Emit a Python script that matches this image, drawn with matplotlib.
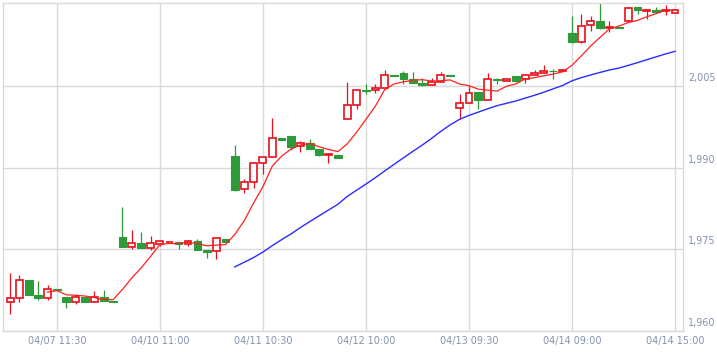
import numpy as np
import matplotlib
matplotlib.use("Agg")
import matplotlib.pyplot as plt
import matplotlib.transforms as mtransforms

# candle data, one entry per bar
opens = [1965.4, 1966.0, 1969.3, 1966.7, 1966.0, 1967.7, 1966.2, 1965.4, 1966.2, 1965.4,
         1966.2, 1965.5, 1977.2, 1975.5, 1976.1, 1975.2, 1975.9, 1976.3, 1976.3, 1975.9,
         1976.6, 1974.9, 1974.7, 1976.9, 1992.1, 1986.0, 1987.4, 1990.8, 1992.0, 1995.4,
         1995.8, 1993.9, 1994.55, 1993.5, 1992.4, 1992.4, 1999.0, 2001.6, 2004.25, 2004.2,
         2004.7, 2007.0, 2007.3, 2006.2, 2005.6, 2005.25, 2005.75, 2007.1, 2000.9, 2001.8,
         2003.9, 2002.5, 2006.2, 2006.0, 2006.8, 2006.2, 2007.1, 2007.3, 2007.85, 2007.75,
         2014.8, 2013.1, 2016.3, 2016.9, 2015.65, 2015.75, 2016.95, 2019.5, 2018.8, 2019.0,
         2018.8, 2018.5]
highs = [1970.6, 1970.3, 1969.3, 1969.2, 1968.4, 1967.7, 1966.2, 1966.8, 1966.2, 1967.3,
         1967.5, 1965.5, 1982.7, 1978.5, 1978.1, 1977.4, 1976.5, 1976.4, 1976.3, 1976.8,
         1976.9, 1974.9, 1977.0, 1976.9, 1994.1, 1987.9, 1991.0, 1992.0, 1999.2, 1995.4,
         1995.8, 1994.9, 1995.2, 1993.5, 1992.6, 1992.4, 2005.7, 2004.2, 2005.3, 2005.45,
         2007.9, 2007.0, 2007.8, 2007.5, 2006.4, 2006.55, 2007.5, 2007.1, 2003.6, 2005.0,
         2003.9, 2007.3, 2006.5, 2006.2, 2006.8, 2007.1, 2007.9, 2008.8, 2008.2, 2008.0,
         2017.8, 2018.3, 2017.8, 2020.2, 2016.9, 2015.75, 2019.6, 2019.5, 2019.0, 2019.6,
         2019.8, 2018.9]
lows = [1963.2, 1965.4, 1966.7, 1965.7, 1965.7, 1967.5, 1964.2, 1965.0, 1965.4, 1965.4,
        1965.6, 1965.4, 1975.5, 1975.0, 1975.3, 1974.9, 1975.6, 1976.3, 1975.0, 1975.6,
        1974.8, 1973.5, 1973.3, 1976.4, 1985.7, 1985.3, 1986.2, 1988.9, 1992.0, 1995.1,
        1993.2, 1992.9, 1993.5, 1992.2, 1990.8, 1991.8, 1999.0, 2000.7, 2003.6, 2003.8,
        2004.5, 2006.8, 2005.3, 2005.6, 2005.0, 2005.25, 2005.75, 2006.9, 1999.0, 2001.8,
        2000.7, 2002.5, 2005.45, 2006.0, 2005.8, 2005.6, 2007.0, 2007.3, 2006.35, 2007.75,
        2012.9, 2012.9, 2015.1, 2015.5, 2014.9, 2015.6, 2016.95, 2018.3, 2017.35, 2018.4,
        2018.0, 2018.5]
closes = [1966.0, 1969.3, 1966.7, 1966.0, 1967.65, 1967.5, 1965.4, 1966.2, 1965.4, 1966.2,
          1965.6, 1965.4, 1975.5, 1976.1, 1975.3, 1976.1, 1976.5, 1976.4, 1975.9, 1976.6,
          1974.8, 1974.55, 1977.0, 1976.4, 1985.9, 1987.4, 1990.8, 1992.0, 1995.4, 1995.1,
          1993.8, 1994.55, 1993.5, 1992.3, 1992.6, 1991.8, 2001.6, 2004.2, 2004.15, 2004.7,
          2007.0, 2006.8, 2006.2, 2005.6, 2005.25, 2005.75, 2007.1, 2006.9, 2001.8, 2003.8,
          2002.5, 2006.2, 2006.05, 2006.2, 2005.95, 2007.1, 2007.4, 2007.8, 2007.75, 2008.0,
          2013.1, 2016.1, 2016.9, 2015.65, 2015.75, 2015.6, 2019.4, 2018.9, 2019.0, 2018.6,
          2019.0, 2018.9]

# short average line (red), starts at bar 4
ma_short = [1967.13, 1967.43, 1966.65, 1966.55, 1966.43, 1966.14, 1965.76, 1965.76, 1967.62, 1969.76,
            1971.58, 1973.68, 1975.90, 1976.08, 1976.04, 1976.30, 1976.04, 1975.65, 1975.77, 1975.87,
            1977.73, 1980.25, 1983.50, 1986.50, 1990.30, 1992.14, 1993.42, 1994.17, 1994.47, 1993.85,
            1993.35, 1992.95, 1994.36, 1996.50, 1998.87, 2001.29, 2004.33, 2005.37, 2005.77, 2006.06,
            2006.17, 2005.92, 2005.98, 2006.12, 2005.36, 2005.07, 2004.42, 2004.24, 2004.07, 2004.95,
            2005.38, 2006.30, 2006.54, 2006.89, 2007.20, 2007.61, 2008.81, 2010.55, 2012.37, 2013.95,
            2015.50, 2016.00, 2016.66, 2017.06, 2017.73, 2018.30, 2018.98, 2018.88]
# long average line (blue), starts at bar 24
ma_long = [1971.78, 1972.63, 1973.49, 1974.50, 1975.68, 1976.78, 1977.83, 1979.00, 1980.09, 1981.16,
           1982.22, 1983.27, 1984.72, 1985.86, 1986.99, 1988.16, 1989.40, 1990.61, 1991.80, 1992.99,
           1994.14, 1995.37, 1996.68, 1997.87, 1998.89, 1999.60, 2000.21, 2000.82, 2001.39, 2001.82,
           2002.25, 2002.78, 2003.30, 2003.87, 2004.49, 2005.10, 2005.96, 2006.54, 2007.04, 2007.50,
           2007.95, 2008.29, 2008.79, 2009.30, 2009.84, 2010.37, 2010.90, 2011.37]

tick_pos = [5, 16, 27, 38, 49, 60, 71]
tick_labels = ["04/07 11:30", "04/10 11:00", "04/11 10:30", "04/12 10:00",
               "04/13 09:30", "04/14 09:00", "04/14 15:00"]
y_ticks = [1960, 1975, 1990, 2005]
y_labels = ["1,960", "1,975", "1,990", "2,005"]

RED = "#e8101a"
GREEN = "#2e9a3a"
GRID = "#dadada"
TXT = "#8393ad"

o = np.array(opens)
h = np.array(highs)
l = np.array(lows)
c = np.array(closes)
x = np.arange(len(c))
up = c >= o

fig = plt.figure(figsize=(7.17, 3.52), dpi=100)
ax = fig.add_axes([3.3 / 717, 21 / 352, 679.4 / 717, 328 / 352])

# wicks
ax.vlines(x[up], l[up], h[up], color=RED, lw=0.9, zorder=2)
ax.vlines(x[~up], l[~up], h[~up], color=GREEN, lw=0.9, zorder=2)

# bodies
bot = np.minimum(o, c)
hgt = np.abs(c - o)
ax.bar(x[up], hgt[up], bottom=bot[up], width=0.74, facecolor="white",
       edgecolor=RED, linewidth=1.2, zorder=3)
ax.bar(x[~up], hgt[~up], bottom=bot[~up], width=0.82, facecolor=GREEN,
       edgecolor=GREEN, linewidth=0.8, zorder=3)

# moving average lines
ax.plot(x[4:], ma_short, color="#ff2020", lw=0.9, zorder=4)
ax.plot(x[24:], ma_long, color="#2b2bff", lw=1.0, zorder=4)

ax.set_xlim(-0.72, 71.82)
ax.set_ylim(1960, 2020.25)

ax.set_xticks(tick_pos)
ax.set_xticklabels(tick_labels)
ax.yaxis.tick_right()
ax.set_yticks(y_ticks)
ax.set_yticklabels(y_labels)
ax.tick_params(axis="both", length=0, labelsize=6.9, labelcolor=TXT)
ax.tick_params(axis="x", pad=3.5)
ax.tick_params(axis="y", pad=4)

shift = mtransforms.ScaledTranslation(0, 3 / 100, fig.dpi_scale_trans)
for lab in ax.get_yticklabels():
    lab.set_va("bottom")
    lab.set_transform(lab.get_transform() + shift)

ax.grid(True, color=GRID, lw=1.0, zorder=0)
ax.set_axisbelow(True)
for sp in ax.spines.values():
    sp.set_color(GRID)
    sp.set_linewidth(1.0)

fig.savefig("out.png", dpi=100)
